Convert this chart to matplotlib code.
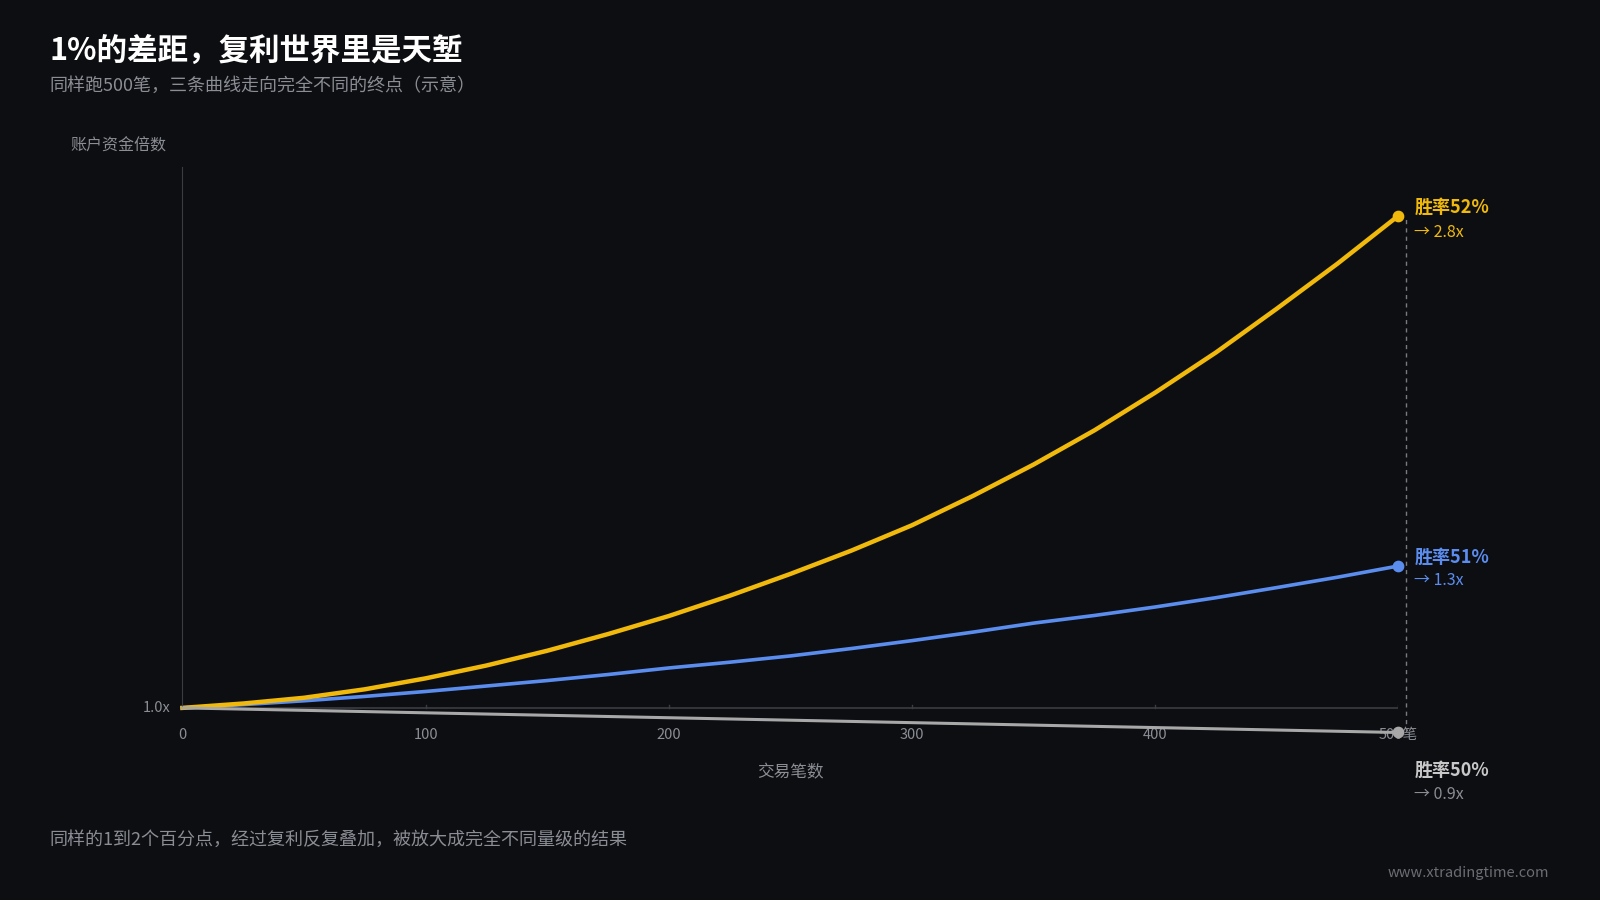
import matplotlib
matplotlib.use("Agg")
import matplotlib.pyplot as plt

plt.rcParams["font.family"] = ["Noto Sans CJK SC", "DejaVu Sans"]

BG = "#0d0e12"
YELLOW = "#f0b90b"
BLUE = "#5b8def"
GREY = "#a8a8a8"
MUTED = "#8a8d94"

# schematic curves
trades = [0, 25, 50, 75, 100, 125, 150, 175, 200, 225, 250, 275, 300,
          325, 350, 375, 400, 425, 450, 475, 500]
wr52 = [1.0, 1.016, 1.037, 1.068, 1.108, 1.155, 1.209, 1.27, 1.336, 1.41, 1.49,
        1.575, 1.668, 1.775, 1.89, 2.015, 2.153, 2.3, 2.46, 2.625, 2.8]
wr51 = [1.0, 1.012, 1.026, 1.042, 1.06, 1.08, 1.10, 1.122, 1.146, 1.167, 1.19,
        1.217, 1.246, 1.277, 1.31, 1.338, 1.369, 1.403, 1.44, 1.478, 1.519]
wr50_x = [0, 500]
wr50 = [1.0, 0.91]
x_ticks = [0, 100, 200, 300, 400, 500]
x_labels = ["0", "100", "200", "300", "400", "500笔"]

fig = plt.figure(figsize=(16, 9), dpi=100, facecolor=BG)
ax = fig.add_axes([0.114, 0.177, 0.760, 0.638])
ax.set_facecolor(BG)
ax.set_xlim(0, 500)
ax.set_ylim(0.88, 2.98)
for s in ["top", "right", "bottom"]:
    ax.spines[s].set_visible(False)
ax.spines["left"].set_color("#3a3c42")
ax.spines["left"].set_bounds(1.0, 2.98)
ax.set_yticks([])
ax.set_xticks([])

ax.axhline(1.0, color="#3a3c42", lw=1.2, zorder=1)
for t, lab in zip(x_ticks, x_labels):
    ax.plot([t, t], [1.0, 1.012], color="#3a3c42", lw=1)
    ax.text(t, 0.90, lab, color=MUTED, fontsize=10.5, ha="center", va="center", zorder=2)
ax.text(-5, 1.0, "1.0x", color=MUTED, fontsize=10.5, ha="right", va="center")

ax.plot([503, 503], [wr50[-1], wr52[-1]], color="#777a80", lw=1, ls=(0, (3, 3)), clip_on=False)
ax.plot(wr50_x, wr50, color=GREY, lw=2.2, clip_on=False, zorder=3)
ax.plot(trades, wr51, color=BLUE, lw=2.6, clip_on=False, solid_joinstyle="round")
ax.plot(trades, wr52, color=YELLOW, lw=3.2, clip_on=False, solid_joinstyle="round")
for ys, c in [(wr52, YELLOW), (wr51, BLUE), (wr50, GREY)]:
    ax.scatter([500], [ys[-1]], s=55, color=c, zorder=5, clip_on=False)

fig.text(0.884, 0.764, "胜率52%", color=YELLOW, fontsize=13, weight="bold")
fig.text(0.884, 0.737, "→ 2.8x", color=YELLOW, fontsize=11.5)
fig.text(0.884, 0.375, "胜率51%", color=BLUE, fontsize=13, weight="bold")
fig.text(0.884, 0.350, "→ 1.3x", color=BLUE, fontsize=11.5)
fig.text(0.884, 0.138, "胜率50%", color="#c8c8c8", fontsize=13, weight="bold")
fig.text(0.884, 0.112, "→ 0.9x", color=MUTED, fontsize=11.5)

fig.text(0.031, 0.934, "1%的差距，复利世界里是天堑", color="white", fontsize=22, weight="bold")
fig.text(0.031, 0.899, "同样跑500笔，三条曲线走向完全不同的终点（示意）", color=MUTED, fontsize=13)
fig.text(0.044, 0.833, "账户资金倍数", color=MUTED, fontsize=11.5)
fig.text(0.494, 0.136, "交易笔数", color=MUTED, fontsize=12, ha="center")
fig.text(0.031, 0.061, "同样的1到2个百分点，经过复利反复叠加，被放大成完全不同量级的结果", color=MUTED, fontsize=13)
fig.text(0.968, 0.026, "www.xtradingtime.com", color="#6a6d73", fontsize=10.5, ha="right")

fig.savefig("out.png", dpi=100, facecolor=BG)
